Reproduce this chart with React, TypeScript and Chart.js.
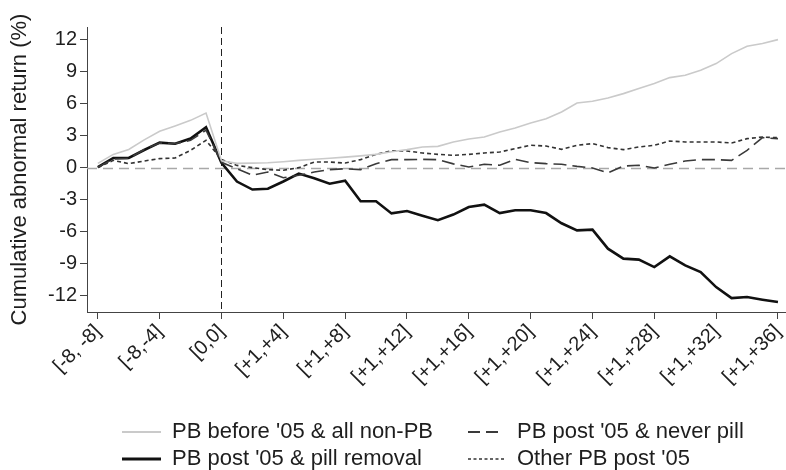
import React, { useEffect, useRef } from "react";
import { Chart, registerables } from "chart.js";

Chart.register(...registerables);

const FONT = "'Liberation Sans', Arial, Helvetica, sans-serif";

const categories = [
  "[-8, -8]", "[-8,-7]", "[-8,-6]", "[-8,-5]", "[-8,-4]", "[-8,-3]", "[-8,-2]", "[-8,-1]",
  "[0,0]",
  "[+1,+1]", "[+1,+2]", "[+1,+3]", "[+1,+4]", "[+1,+5]", "[+1,+6]", "[+1,+7]", "[+1,+8]",
  "[+1,+9]", "[+1,+10]", "[+1,+11]", "[+1,+12]", "[+1,+13]", "[+1,+14]", "[+1,+15]", "[+1,+16]",
  "[+1,+17]", "[+1,+18]", "[+1,+19]", "[+1,+20]", "[+1,+21]", "[+1,+22]", "[+1,+23]", "[+1,+24]",
  "[+1,+25]", "[+1,+26]", "[+1,+27]", "[+1,+28]", "[+1,+29]", "[+1,+30]", "[+1,+31]", "[+1,+32]",
  "[+1,+33]", "[+1,+34]", "[+1,+35]", "[+1,+36]",
];

const xTickIndices = [0, 4, 8, 12, 16, 20, 24, 28, 32, 36, 40, 44];
const yTickValues = [-12, -9, -6, -3, 0, 3, 6, 9, 12];
const eventIndex = 8;

const seriesNames = [
  "PB before '05 & all non-PB",
  "PB post '05 & never pill",
  "PB post '05 & pill removal",
  "Other PB post '05",
];

const pbBeforeAllNonPB = [
  0.4, 1.24, 1.7, 2.6, 3.4, 3.9, 4.42, 5.1, 0.65,
  0.4, 0.42, 0.45, 0.55, 0.68, 0.78, 0.88, 0.98, 1.1, 1.24, 1.48,
  1.68, 1.93, 1.99, 2.4, 2.68, 2.86, 3.33, 3.71, 4.17, 4.58,
  5.2, 6.04, 6.2, 6.51, 6.92, 7.39, 7.86, 8.42, 8.63, 9.1, 9.73, 10.66, 11.35, 11.6, 11.97,
];

const pillRemoval = [
  0.05, 0.9, 0.9, 1.65, 2.34, 2.24, 2.72, 3.78, 0.45,
  -1.3, -2.05, -1.97, -1.3, -0.56, -1.0, -1.5, -1.23, -3.15, -3.15, -4.28,
  -4.06, -4.49, -4.92, -4.39, -3.68, -3.46, -4.25, -3.99, -3.99, -4.25,
  -5.2, -5.87, -5.8, -7.58, -8.51, -8.6, -9.3, -8.3, -9.14, -9.76, -11.17, -12.2, -12.1, -12.35, -12.57,
];

const neverPill = [
  0.05, 0.8, 0.85, 1.7, 2.3, 2.25, 2.55, 3.5, 0.5,
  -0.1, -0.72, -0.41, -0.94, -0.72, -0.41, -0.19, -0.1, -0.19, 0.37, 0.75,
  0.75, 0.77, 0.75, 0.35, 0.06, 0.31, 0.22, 0.78, 0.47, 0.37,
  0.31, 0.12, -0.03, -0.5, 0.15, 0.22, -0.03, 0.31, 0.62, 0.75, 0.75, 0.68, 1.62, 2.8, 2.71,
];

const otherPost = [
  0.0, 0.68, 0.37, 0.62, 0.84, 0.9, 1.62, 2.55, 0.75,
  0.21, 0.0, -0.19, -0.25, 0.0, 0.52, 0.52, 0.43, 0.75, 1.24, 1.58,
  1.55, 1.37, 1.24, 1.15, 1.24, 1.37, 1.46, 1.78, 2.09, 2.02,
  1.71, 2.09, 2.24, 1.87, 1.68, 1.93, 2.09, 2.49, 2.4, 2.4, 2.4, 2.3, 2.71, 2.86, 2.8,
];

const toXY = (arr: number[]) => arr.map((y, i) => ({ x: i, y }));

const guidePlugin = {
  id: "guides",
  beforeDatasetsDraw(chart: any) {
    const { ctx, chartArea, scales } = chart;
    const xs = scales.x;
    const ys = scales.y;
    ctx.save();
    const y0 = Math.round(ys.getPixelForValue(0)) + 0.5;
    ctx.strokeStyle = "#a8a8a8";
    ctx.lineWidth = 1.6;
    ctx.setLineDash([10, 6]);
    ctx.beginPath();
    ctx.moveTo(chartArea.left, y0);
    ctx.lineTo(chartArea.right, y0);
    ctx.stroke();
    const xe = Math.round(xs.getPixelForValue(eventIndex)) + 0.5;
    ctx.strokeStyle = "#222";
    ctx.lineWidth = 1;
    ctx.setLineDash([7, 4]);
    ctx.beginPath();
    ctx.moveTo(xe, chartArea.top);
    ctx.lineTo(xe, chartArea.bottom);
    ctx.stroke();
    ctx.restore();
  },
};

const legendItems = [
  { label: seriesNames[0], color: "#cacaca", width: 1.8, dash: "", x: 122, w: 39, tx: 172, row: 0 },
  { label: seriesNames[1], color: "#3a3a3a", width: 1.8, dash: "12 6", x: 468, w: 33, tx: 517, row: 0 },
  { label: seriesNames[2], color: "#111", width: 3, dash: "", x: 122, w: 39, tx: 172, row: 1 },
  { label: seriesNames[3], color: "#333", width: 1.6, dash: "3 2.5", x: 468, w: 36, tx: 517, row: 1 },
];
const rowCapCenter = [430.5, 458];
const rowLineY = [432, 459];

export default function App() {
  const ref = useRef<HTMLCanvasElement>(null);

  useEffect(() => {
    document.body.style.margin = "0";
    if (!ref.current) return;
    const axisColor = "#444";
    const textColor = "#1e1e1e";
    const chart = new Chart(ref.current, {
      type: "line",
      data: {
        datasets: [
          {
            label: seriesNames[0],
            data: toXY(pbBeforeAllNonPB),
            borderColor: "#cacaca",
            borderWidth: 1.6,
            pointRadius: 0,
            tension: 0,
          },
          {
            label: seriesNames[1],
            data: toXY(neverPill),
            borderColor: "#3a3a3a",
            borderWidth: 1.6,
            borderDash: [13, 6],
            pointRadius: 0,
            tension: 0,
          },
          {
            label: seriesNames[3],
            data: toXY(otherPost),
            borderColor: "#333",
            borderWidth: 1.6,
            borderDash: [4, 3],
            pointRadius: 0,
            tension: 0,
          },
          {
            label: seriesNames[2],
            data: toXY(pillRemoval),
            borderColor: "#111",
            borderWidth: 2.6,
            pointRadius: 0,
            tension: 0,
          },
        ],
      },
      options: {
        responsive: false,
        animation: false,
        layout: { padding: { top: 27, right: 0, left: 0, bottom: 0 } },
        plugins: { legend: { display: false }, tooltip: { enabled: false } },
        scales: {
          x: {
            type: "linear",
            min: -0.7,
            max: 44.52,
            afterBuildTicks: (s: any) => {
              s.ticks = xTickIndices.map((v) => ({ value: v }));
            },
            afterFit: (s: any) => {
              s.height = 158;
              s.paddingLeft = 0;
              s.paddingRight = 0;
            },
            grid: { drawOnChartArea: false, drawTicks: true, tickLength: 7, color: axisColor, lineWidth: 1 },
            border: { display: true, color: axisColor, width: 1 },
            ticks: {
              minRotation: 45,
              maxRotation: 45,
              autoSkip: false,
              padding: 1,
              color: textColor,
              font: { family: FONT, size: 20 },
              callback: (v: any) => categories[Number(v)] ?? "",
            },
          },
          y: {
            min: -13.5,
            max: 13.15,
            afterBuildTicks: (s: any) => {
              s.ticks = yTickValues.map((v) => ({ value: v }));
            },
            afterFit: (s: any) => {
              s.width = 87;
              s.paddingTop = 0;
              s.paddingBottom = 0;
            },
            grid: { drawOnChartArea: false, drawTicks: true, tickLength: 7, color: axisColor, lineWidth: 1 },
            border: { display: true, color: axisColor, width: 1 },
            ticks: {
              padding: 3,
              color: textColor,
              font: { family: FONT, size: 20 },
              callback: (v: any) => String(v),
            },
            title: {
              display: true,
              text: "Cumulative abnormal return (%)",
              color: textColor,
              font: { family: FONT, size: 22 },
              padding: { top: 7, bottom: 0 },
            },
          },
        },
      },
      plugins: [guidePlugin],
    });
    return () => chart.destroy();
  }, []);

  return (
    <div style={{ position: "relative", width: 786, height: 470, background: "#fff", overflow: "hidden" }}>
      <canvas ref={ref} width={786} height={470} style={{ position: "absolute", left: 0, top: 0 }} />
      <svg width={786} height={470} style={{ position: "absolute", left: 0, top: 0, pointerEvents: "none" }}>
        {legendItems.map((it, i) => (
          <line
            key={i}
            x1={it.x}
            x2={it.x + it.w}
            y1={rowLineY[it.row]}
            y2={rowLineY[it.row]}
            stroke={it.color}
            strokeWidth={it.width}
            strokeDasharray={it.dash || undefined}
          />
        ))}
      </svg>
      {legendItems.map((it, i) => (
        <div
          key={i}
          style={{
            position: "absolute",
            left: it.tx,
            top: rowCapCenter[it.row] - 13,
            height: 26,
            lineHeight: "26px",
            fontFamily: FONT,
            fontSize: 22,
            color: "#1e1e1e",
            whiteSpace: "nowrap",
          }}
        >
          {it.label}
        </div>
      ))}
    </div>
  );
}
